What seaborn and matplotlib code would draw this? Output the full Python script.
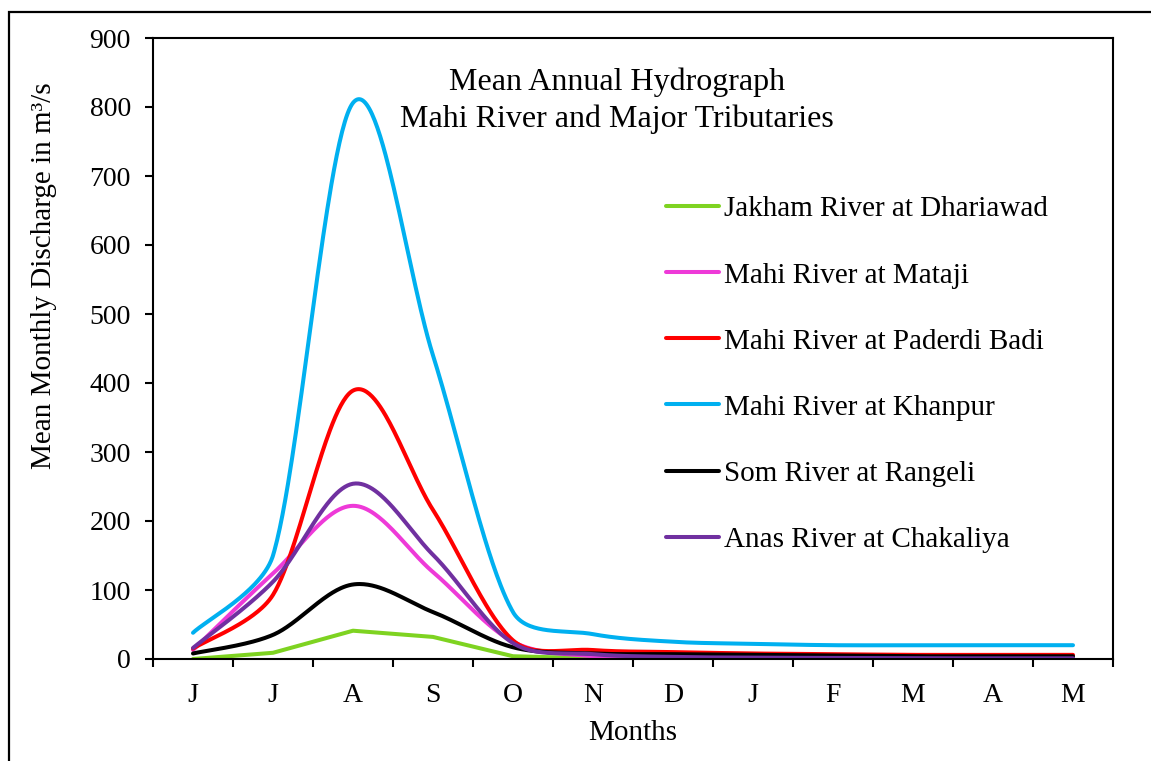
import numpy as np
import pandas as pd
import matplotlib
matplotlib.use("Agg")
import matplotlib.pyplot as plt
from matplotlib.patches import Rectangle
import seaborn as sns

# Mean monthly discharge (m3/s), hydrological year June -> May
months = ["J", "J", "A", "S", "O", "N", "D", "J", "F", "M", "A", "M"]
jakham_dhariawad = [0, 9, 41, 32, 4, 1, 0.5, 0.3, 0.2, 0.2, 0.2, 0.2]
mahi_mataji = [13, 124, 222, 126, 25, 4, 2, 1.5, 1, 1, 1, 0.5]
mahi_paderdi_badi = [15, 93, 389, 216, 27, 13, 10, 8, 7, 6, 6, 6]
mahi_khanpur = [38, 150, 806, 440, 68, 36, 25, 22, 20, 20, 20, 20]
som_rangeli = [8, 35, 108, 68, 17, 8, 7, 6, 5, 4, 4, 4]
anas_chakaliya = [16, 112, 254, 151, 23, 7, 3, 2, 1.5, 1, 1, 1]

series_names = [
    "Jakham River at Dhariawad",
    "Mahi River at Mataji",
    "Mahi River at Paderdi Badi",
    "Mahi River at Khanpur",
    "Som River at Rangeli",
    "Anas River at Chakaliya",
]
series_values = [jakham_dhariawad, mahi_mataji, mahi_paderdi_badi,
                 mahi_khanpur, som_rangeli, anas_chakaliya]
series_colors = ["#7ED321", "#EE3AD8", "#FF0000", "#00B0F0", "#000000", "#7030A0"]
series_smooth = [False, True, True, True, True, True]

W, H = 1151, 761
AX_L, AX_R, AX_T, AX_B = 153, 1113, 38, 659
Y_MAX = 900


def smooth_curve(xs, ys, n=60):
    """Smoothed line through every point: Catmull-Rom style Bezier arms,
    each arm kept within a third of its neighbouring segment on screen."""
    kx = (AX_R - AX_L) / len(xs)          # pixels per category
    ky = (AX_B - AX_T) / Y_MAX            # pixels per unit
    P = np.column_stack([np.asarray(xs, float) * kx, np.asarray(ys, float) * ky])
    m = len(P)
    seg_len = np.linalg.norm(np.diff(P, axis=0), axis=1)
    left_ctrl = P.copy()
    right_ctrl = P.copy()
    for i in range(m):
        lo, hi = max(i - 1, 0), min(i + 1, m - 1)
        arm = (P[hi] - P[lo]) / 6.0
        arm_len = np.linalg.norm(arm)
        if arm_len == 0:
            continue
        if i > 0:
            s = min(1.0, seg_len[i - 1] / 3.0 / arm_len)
            left_ctrl[i] = P[i] - arm * s
        if i < m - 1:
            s = min(1.0, seg_len[i] / 3.0 / arm_len)
            right_ctrl[i] = P[i] + arm * s
    t = np.linspace(0, 1, n)[:, None]
    out = []
    for i in range(m - 1):
        p1, b1, b2, p2 = P[i], right_ctrl[i], left_ctrl[i + 1], P[i + 1]
        seg = ((1 - t) ** 3) * p1 + 3 * ((1 - t) ** 2) * t * b1 \
            + 3 * (1 - t) * t ** 2 * b2 + t ** 3 * p2
        out.append(seg if i == 0 else seg[1:])
    out = np.vstack(out)
    return out[:, 0] / kx, out[:, 1] / ky


sns.set_theme(style="white")
plt.rcParams["font.family"] = ["Liberation Serif", "DejaVu Serif"]
plt.rcParams["text.color"] = "black"
plt.rcParams["axes.labelcolor"] = "black"
plt.rcParams["xtick.color"] = "black"
plt.rcParams["ytick.color"] = "black"
FS_TICK = 20
FS_TEXT = 21
FS_TITLE = 23

fig = plt.figure(figsize=(W / 100, H / 100), dpi=100)
ax = fig.add_axes([AX_L / W, 1 - AX_B / H, (AX_R - AX_L) / W, (AX_B - AX_T) / H])

x_pos = np.arange(len(months))
for name, vals, col, sm in zip(series_names, series_values, series_colors, series_smooth):
    if sm:
        sx, sy = smooth_curve(x_pos, vals)
    else:
        sx, sy = x_pos.astype(float), np.asarray(vals, float)
    df = pd.DataFrame({"x": sx, "y": sy})
    sns.lineplot(data=df, x="x", y="y", ax=ax, color=col, lw=2.9,
                 label=name, sort=False, estimator=None)

ax.set_xlim(-0.5, len(months) - 0.5)
ax.set_ylim(0, Y_MAX)
ax.set_yticks(np.arange(0, Y_MAX + 1, 100))
ax.set_xticks(np.arange(-0.5, len(months), 1.0))
ax.set_xticklabels([])
ax.set_xticks(x_pos, minor=True)
ax.set_xticklabels(months, minor=True)
ax.set_xlabel("")
ax.set_ylabel("")

for sp in ax.spines.values():
    sp.set_visible(True)
    sp.set_color("black")
    sp.set_linewidth(1.5)

ax.tick_params(axis="y", which="major", direction="out", length=6, width=1.5,
               color="black", labelsize=FS_TICK, pad=10, left=True)
ax.tick_params(axis="x", which="major", direction="out", length=6, width=1.5,
               color="black", bottom=True)
ax.tick_params(axis="x", which="minor", length=0, labelsize=FS_TICK, pad=17)

fs_px = FS_TEXT * 100 / 72
leg = ax.legend(loc="upper left",
                bbox_to_anchor=((666 - AX_L) / (AX_R - AX_L), (AX_B - 196) / (AX_B - AX_T)),
                frameon=False, fontsize=FS_TEXT, handlelength=53 / fs_px,
                handletextpad=5 / fs_px, labelspacing=1.36, borderpad=0,
                borderaxespad=0)
for line in leg.get_lines():
    line.set_linewidth(2.9)
for txt in leg.get_texts():
    txt.set_color("black")

fig.text(617 / W, 1 - 82 / H, "Mean Annual Hydrograph", ha="center", va="center",
         fontsize=FS_TITLE)
fig.text(617 / W, 1 - 119 / H, "Mahi River and Major Tributaries", ha="center",
         va="center", fontsize=FS_TITLE)
fig.text(633 / W, 1 - 733 / H, "Months", ha="center", va="center", fontsize=FS_TEXT)
fig.text(44 / W, 1 - 276 / H, "Mean Monthly Discharge in m\u00b3/s", ha="center",
         va="center", rotation=90, fontsize=FS_TEXT)

# outer chart frame
fig.add_artist(Rectangle((9 / W, -0.1), 1.2, 1 - 12 / H + 0.1,
                         transform=fig.transFigure, fill=False, lw=1.6,
                         edgecolor="black", clip_on=False))

fig.savefig("out.png", dpi=100)
